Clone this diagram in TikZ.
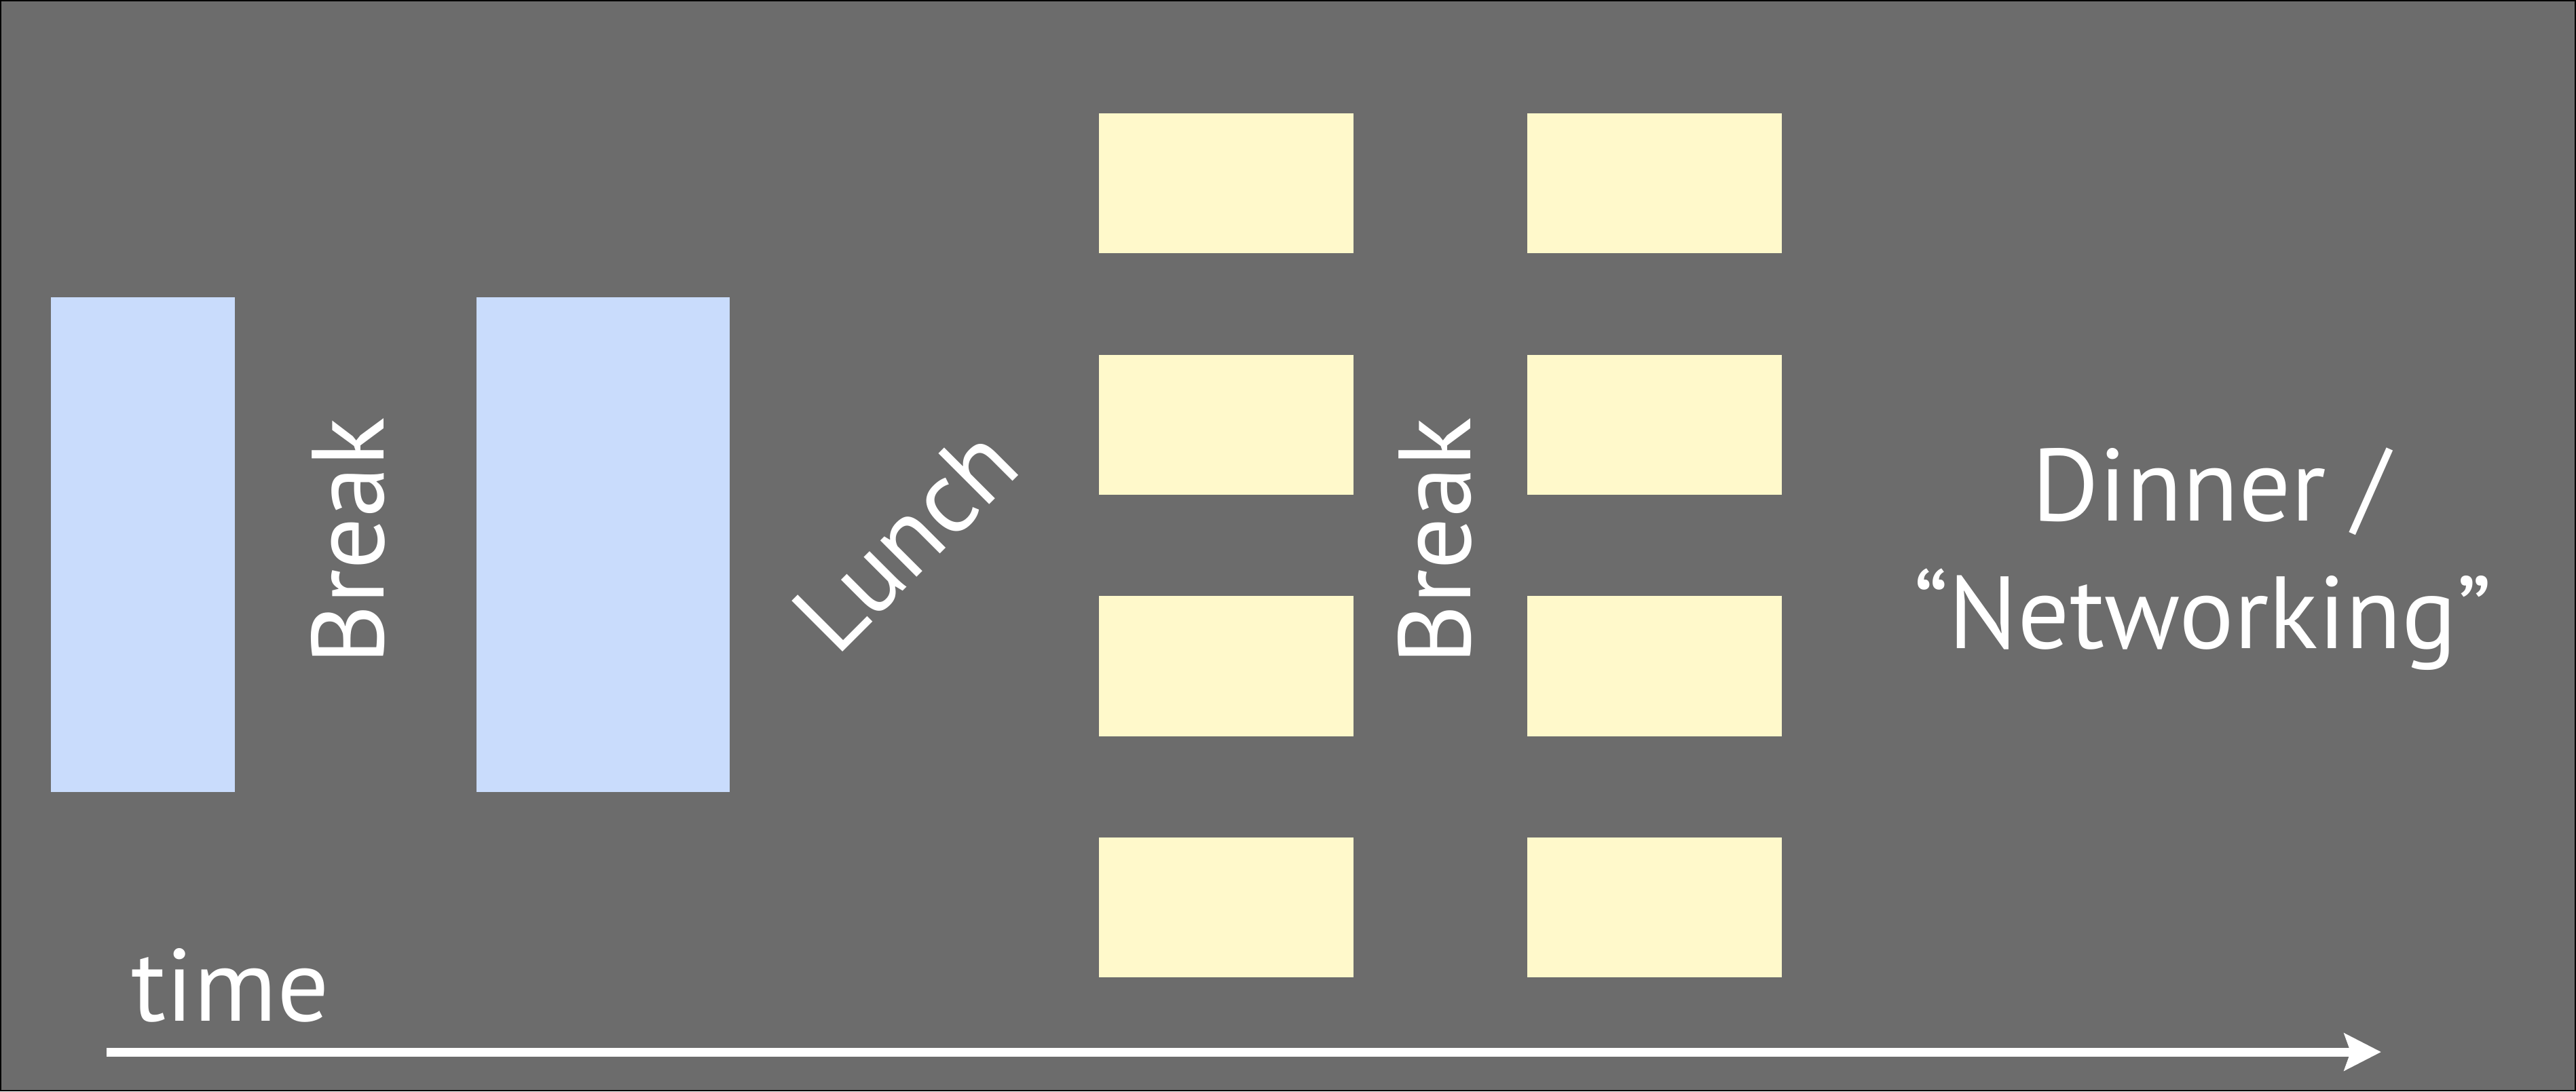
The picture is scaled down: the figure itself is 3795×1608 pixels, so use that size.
\documentclass[tikz,border=0pt]{standalone}
\usepackage{fontspec}
\setmainfont{PT Sans}
\usetikzlibrary{arrows.meta}
\definecolor{bggray}{RGB}{108,108,108}
\definecolor{sessblue}{RGB}{201,220,252}
\definecolor{sessyellow}{RGB}{255,249,203}
\tikzset{
  bluebox/.style={fill=sessblue, draw=none, inner sep=0pt, minimum height=7.29cm},
  yellowbox/.style={fill=sessyellow, draw=none, inner sep=0pt, minimum width=3.75cm, minimum height=2.06cm},
  label/.style={text=white, inner sep=0pt, font=\fontsize{43}{54}\selectfont},
  timearrow/.style={draw=white, line width=3.7pt, -{Stealth[length=15.4pt, width=15.4pt, inset=2.6pt]}}
}
\begin{document}
\begin{tikzpicture}[x=0.01cm, y=-0.01cm]
\useasboundingbox (0,0) rectangle (3795,1608);
\fill[black] (0,0) rectangle (3795,1608);
\fill[bggray] (2,2) rectangle (3793,1606);
% morning sessions
\node[bluebox, minimum width=2.71cm] (b1) at (210.5,802.5) {};
\node[bluebox, minimum width=3.73cm] (b2) at (888.5,802.5) {};
% afternoon parallel sessions
\node[yellowbox] (y11) at (1806.5,270) {};
\node[yellowbox] (y12) at (1806.5,626) {};
\node[yellowbox] (y13) at (1806.5,981.5) {};
\node[yellowbox] (y14) at (1806.5,1337) {};
\node[yellowbox] (y21) at (2437.5,270) {};
\node[yellowbox] (y22) at (2437.5,626) {};
\node[yellowbox] (y23) at (2437.5,981.5) {};
\node[yellowbox] (y24) at (2437.5,1337) {};
% labels
\node[label, rotate=90, anchor=base] (brk1) at (565,797) {Break};
\node[label, rotate=45, anchor=base] (lunch) at (1370,831) {Lunch};
\node[label, rotate=90, anchor=base] (brk2) at (2166,797) {Break};
\node[label, anchor=base] (dinner) at (3257,767) {Dinner /};
\node[label, anchor=base] (netw) at (3245,955) {“Networking”};
\node[label, anchor=base west] (time) at (193,1504) {time};
% time axis
\coordinate (t0) at (157,1550);
\coordinate (t1) at (3508,1550);
\draw[timearrow] (t0) -- (t1);
\end{tikzpicture}
\end{document}
